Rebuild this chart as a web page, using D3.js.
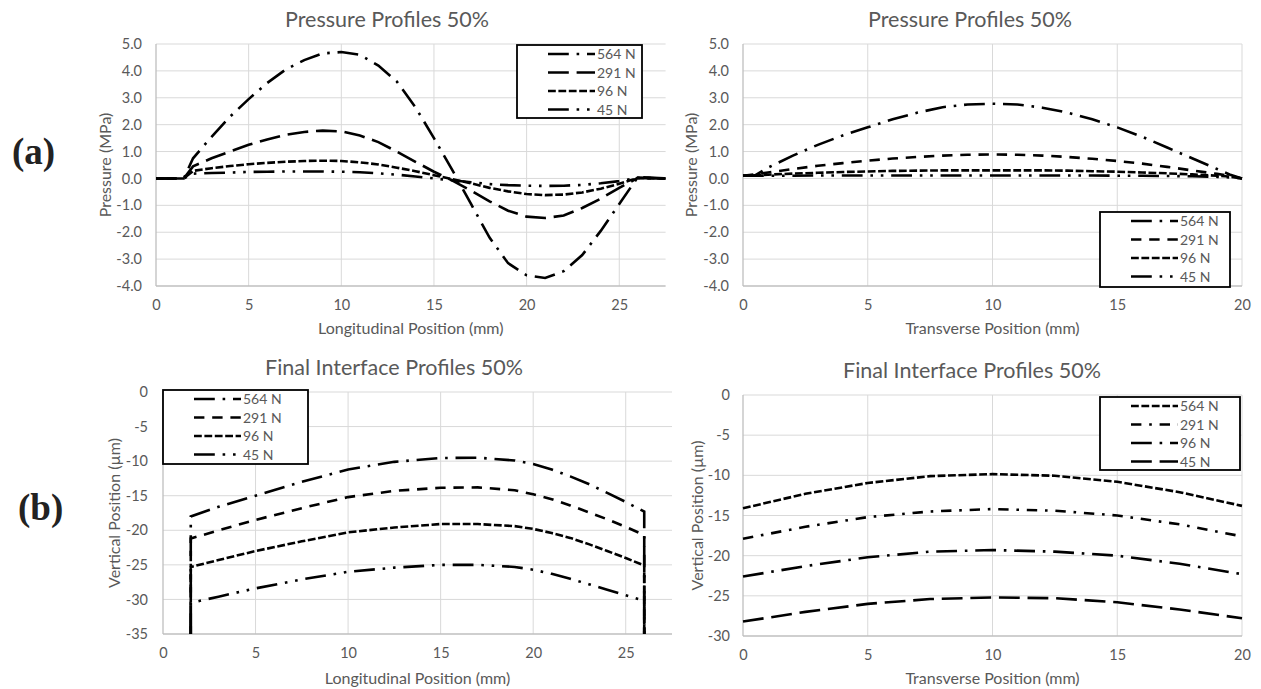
<!DOCTYPE html>
<html>
<head>
<meta charset="UTF-8">
<title>Pressure and Interface Profiles 50%</title>
<script src="https://cdn.jsdelivr.net/npm/d3@7"></script>
<style>
  body { margin: 0; background: #ffffff; }
</style>
</head>
<body>
<svg id="chart" width="1261" height="689"></svg>
<script>
// ---- data ----
var forceLabels = ['564 N', '291 N', '96 N', '45 N'];

// (a) left: pressure along longitudinal position (mm -> MPa)
var xLong = [0, 1.5, 2, 3, 4, 5, 6, 7, 8, 9, 10, 11, 12, 13, 14, 15, 16, 17, 18, 19, 20, 21, 22, 23, 24, 25, 26, 27.5];
var pLong564 = [0, 0, 0.75, 1.55, 2.3, 2.95, 3.55, 4.05, 4.4, 4.65, 4.7, 4.6, 4.2, 3.6, 2.65, 1.5, 0.3, -0.95, -2.2, -3.15, -3.6, -3.7, -3.45, -2.85, -1.95, -0.95, 0.05, 0];
var pLong291 = [0, 0, 0.45, 0.75, 1.0, 1.25, 1.45, 1.62, 1.73, 1.78, 1.75, 1.6, 1.35, 1.0, 0.62, 0.25, -0.08, -0.45, -0.85, -1.2, -1.42, -1.47, -1.38, -1.1, -0.75, -0.35, 0.02, 0];
var pLong96 = [0, 0, 0.28, 0.38, 0.46, 0.53, 0.58, 0.62, 0.65, 0.66, 0.65, 0.6, 0.52, 0.4, 0.27, 0.12, -0.03, -0.18, -0.35, -0.48, -0.58, -0.62, -0.6, -0.52, -0.38, -0.2, 0.02, 0];
var pLong45 = [0, 0, 0.18, 0.2, 0.22, 0.24, 0.25, 0.26, 0.26, 0.26, 0.25, 0.23, 0.19, 0.14, 0.07, 0.0, -0.07, -0.14, -0.21, -0.25, -0.27, -0.28, -0.27, -0.24, -0.18, -0.1, 0.02, 0];

// (a) right: pressure along transverse position
var xTrans = [0, 0.5, 1, 2, 3, 4, 5, 6, 7, 8, 9, 10, 11, 12, 13, 14, 15, 16, 17, 18, 19, 19.5, 20];
var pTrans564 = [0.1, 0.12, 0.4, 0.85, 1.25, 1.6, 1.9, 2.2, 2.45, 2.65, 2.75, 2.78, 2.75, 2.63, 2.45, 2.2, 1.9, 1.55, 1.15, 0.75, 0.35, 0.15, 0.0];
var pTrans291 = [0.1, 0.15, 0.22, 0.35, 0.47, 0.57, 0.66, 0.74, 0.8, 0.85, 0.88, 0.89, 0.88, 0.85, 0.8, 0.73, 0.65, 0.55, 0.43, 0.3, 0.17, 0.1, 0.0];
var pTrans96 = [0.1, 0.12, 0.14, 0.18, 0.21, 0.24, 0.26, 0.28, 0.29, 0.3, 0.3, 0.3, 0.3, 0.3, 0.29, 0.27, 0.25, 0.22, 0.19, 0.15, 0.1, 0.07, 0.0];
var pTrans45 = [0.1, 0.1, 0.1, 0.1, 0.11, 0.11, 0.11, 0.11, 0.11, 0.11, 0.11, 0.11, 0.11, 0.11, 0.11, 0.11, 0.1, 0.1, 0.09, 0.08, 0.06, 0.04, 0.0];

// (b) left: final interface along longitudinal position (mm -> um)
var xIntLong = [1.5, 1.5, 3, 5, 7.5, 10, 12.5, 15, 17, 19, 20, 21, 22, 23, 24, 25, 26, 26];
var iLong564 = [-35, -18, -16.6, -15.0, -13.0, -11.2, -10.1, -9.55, -9.5, -9.9, -10.4, -11.2, -12.2, -13.3, -14.6, -15.9, -17.3, -35];
var iLong291 = [-35, -21.2, -20.0, -18.5, -16.8, -15.2, -14.3, -13.85, -13.8, -14.2, -14.8, -15.5, -16.4, -17.4, -18.4, -19.5, -20.7, -35];
var iLong96 = [-35, -25.3, -24.3, -23.0, -21.6, -20.3, -19.6, -19.1, -19.1, -19.4, -19.8, -20.4, -21.1, -22.0, -23.0, -24.0, -25.1, -35];
var iLong45 = [-35, -30.5, -29.6, -28.4, -27.1, -26.0, -25.4, -25.0, -25.0, -25.3, -25.7, -26.3, -27.0, -27.8, -28.6, -29.4, -30.2, -35];

// (b) right: final interface along transverse position
var xIntTrans = [0, 2.5, 5, 7.5, 10, 12.5, 15, 17.5, 20];
var iTrans564 = [-14.1, -12.3, -10.95, -10.1, -9.85, -10.05, -10.8, -12.1, -13.8];
var iTrans291 = [-17.9, -16.4, -15.2, -14.5, -14.2, -14.4, -15.0, -16.1, -17.6];
var iTrans96 = [-22.6, -21.3, -20.2, -19.5, -19.3, -19.5, -20.0, -21.0, -22.3];
var iTrans45 = [-28.2, -27.0, -26.0, -25.4, -25.2, -25.3, -25.8, -26.7, -27.8];

var pressureTicks = [5, 4, 3, 2, 1, 0, -1, -2, -3, -4];
var longTicks = [0, 5, 10, 15, 20, 25];
var transTicks = [0, 5, 10, 15, 20];
var intLongTicks = [0, -5, -10, -15, -20, -25, -30, -35];
var intTransTicks = [0, -5, -10, -15, -20, -25, -30];

// Excel style dash types, in multiples of the line width
var W = 2.6;
function dash(units) { return units.map(function (u) { return u * W; }).join(','); }
var LG_DASH_DOT = dash([8, 3, 1, 3]);
var LG_DASH = dash([8, 3]);
var SYS_DASH = dash([3, 1]);
var LG_DASH_DOT_DOT = dash([8, 3, 1, 3, 1, 3]);
var DASH = dash([4, 3]);
var DASH_DOT = dash([4, 3, 1, 3]);

var svg = d3.select('#chart');
var GRID = '#d9d9d9', AXIS = '#bfbfbf', TEXT = '#595959';
var FONT = "Lato, 'Open Sans', sans-serif";
var TICK_SIZE = 14.5, LABEL_SIZE = 16, TITLE_SIZE = 21.5, LEGEND_SIZE = 14;

function drawPanel(p) {
  var x = d3.scaleLinear().domain(p.xDomain).range([p.left, p.right]);
  var y = d3.scaleLinear().domain(p.yDomain).range([p.bottom, p.top]);
  var g = svg.append('g').style('font-family', FONT);

  // gridlines
  g.selectAll('line.vgrid')
    .data(p.xTicks.filter(function (d) { return d !== p.xDomain[0]; }))
    .enter().append('line')
    .attr('x1', function (d) { return x(d); }).attr('x2', function (d) { return x(d); })
    .attr('y1', p.top).attr('y2', p.bottom)
    .attr('stroke', GRID).attr('stroke-width', 1);
  g.selectAll('line.hgrid')
    .data(p.yTicks.filter(function (d) { return d !== p.yDomain[0]; }))
    .enter().append('line')
    .attr('x1', p.left).attr('x2', p.right)
    .attr('y1', function (d) { return y(d); }).attr('y2', function (d) { return y(d); })
    .attr('stroke', GRID).attr('stroke-width', 1);
  // axis lines
  g.append('line').attr('x1', p.left).attr('x2', p.right).attr('y1', p.bottom).attr('y2', p.bottom)
    .attr('stroke', AXIS).attr('stroke-width', 1.3);
  g.append('line').attr('x1', p.left).attr('x2', p.left).attr('y1', p.top).attr('y2', p.bottom)
    .attr('stroke', AXIS).attr('stroke-width', 1.3);

  // tick labels
  var xAxis = d3.axisBottom(x).tickValues(p.xTicks).tickSize(0).tickPadding(14)
    .tickFormat(function (d) { return String(d); });
  g.append('g').attr('transform', 'translate(0,' + p.bottom + ')').call(xAxis)
    .attr('font-family', null).attr('font-size', TICK_SIZE).style('color', TEXT)
    .select('.domain').remove();
  var yAxis = d3.axisLeft(y).tickValues(p.yTicks).tickSize(0).tickPadding(p.yPad)
    .tickFormat(p.yFormat);
  g.append('g').attr('transform', 'translate(' + p.left + ',0)').call(yAxis)
    .attr('font-family', null).attr('font-size', TICK_SIZE).style('color', TEXT)
    .select('.domain').remove();

  // titles
  g.append('text').attr('x', p.titleX).attr('y', p.titleY).attr('text-anchor', 'middle')
    .attr('font-size', TITLE_SIZE).attr('fill', TEXT).text(p.title);
  g.append('text').attr('x', (p.left + p.right) / 2).attr('y', p.xLabelY).attr('text-anchor', 'middle')
    .attr('font-size', LABEL_SIZE).attr('fill', TEXT).text(p.xLabel);
  g.append('text').attr('transform', 'translate(' + p.yLabelX + ',' + (p.top + p.bottom) / 2 + ') rotate(-90)')
    .attr('text-anchor', 'middle').attr('font-size', LABEL_SIZE).attr('fill', TEXT).text(p.yLabel);

  // series
  var line = d3.line();
  p.series.forEach(function (s) {
    var pts = s.x.map(function (xv, i) { return [x(xv), y(s.y[i])]; });
    g.append('path').attr('d', line(pts)).attr('fill', 'none')
      .attr('stroke', '#000').attr('stroke-width', W).attr('stroke-dasharray', s.dash);
  });

  // legend
  var L = p.legend;
  g.append('rect').attr('x', L.x).attr('y', L.y).attr('width', L.w).attr('height', L.h)
    .attr('fill', '#fff').attr('stroke', '#000').attr('stroke-width', 1.8);
  p.series.forEach(function (s, i) {
    var ly = L.y + 9 + i * 18.5;
    g.append('line').attr('x1', L.x + 31).attr('x2', L.x + 78).attr('y1', ly).attr('y2', ly)
      .attr('stroke', '#000').attr('stroke-width', W).attr('stroke-dasharray', s.dash);
    g.append('text').attr('x', L.x + 80).attr('y', ly).attr('dy', '0.36em')
      .attr('font-size', LEGEND_SIZE).attr('fill', TEXT).text(s.name);
  });
}

function fmt1(d) { return d.toFixed(1); }
function fmt0(d) { return String(d); }

drawPanel({
  left: 156, right: 665.6, top: 44, bottom: 286,
  xDomain: [0, 27.5], yDomain: [-4, 5], xTicks: longTicks, yTicks: pressureTicks,
  yFormat: fmt1, yPad: 14,
  title: 'Pressure Profiles 50%', titleX: 387, titleY: 27,
  xLabel: 'Longitudinal Position (mm)', xLabelY: 334,
  yLabel: 'Pressure (MPa)', yLabelX: 111,
  legend: { x: 517, y: 45, w: 125, h: 73 },
  series: [
    { name: forceLabels[0], x: xLong, y: pLong564, dash: LG_DASH_DOT },
    { name: forceLabels[1], x: xLong, y: pLong291, dash: LG_DASH },
    { name: forceLabels[2], x: xLong, y: pLong96, dash: SYS_DASH },
    { name: forceLabels[3], x: xLong, y: pLong45, dash: LG_DASH_DOT_DOT }
  ]
});

drawPanel({
  left: 743, right: 1242, top: 44, bottom: 286,
  xDomain: [0, 20], yDomain: [-4, 5], xTicks: transTicks, yTicks: pressureTicks,
  yFormat: fmt1, yPad: 14,
  title: 'Pressure Profiles 50%', titleX: 970, titleY: 27,
  xLabel: 'Transverse Position (mm)', xLabelY: 334,
  yLabel: 'Pressure (MPa)', yLabelX: 697,
  legend: { x: 1100, y: 212, w: 130, h: 75 },
  series: [
    { name: forceLabels[0], x: xTrans, y: pTrans564, dash: LG_DASH_DOT },
    { name: forceLabels[1], x: xTrans, y: pTrans291, dash: DASH },
    { name: forceLabels[2], x: xTrans, y: pTrans96, dash: SYS_DASH },
    { name: forceLabels[3], x: xTrans, y: pTrans45, dash: LG_DASH_DOT_DOT }
  ]
});

drawPanel({
  left: 163, right: 672, top: 392, bottom: 634,
  xDomain: [0, 27.5], yDomain: [-35, 0], xTicks: longTicks, yTicks: intLongTicks,
  yFormat: fmt0, yPad: 15,
  title: 'Final Interface Profiles 50%', titleX: 394, titleY: 375,
  xLabel: 'Longitudinal Position (mm)', xLabelY: 684,
  yLabel: 'Vertical Position (\u00b5m)', yLabelX: 120,
  legend: { x: 163, y: 390, w: 145, h: 74 },
  series: [
    { name: forceLabels[0], x: xIntLong, y: iLong564, dash: LG_DASH_DOT },
    { name: forceLabels[1], x: xIntLong, y: iLong291, dash: DASH },
    { name: forceLabels[2], x: xIntLong, y: iLong96, dash: SYS_DASH },
    { name: forceLabels[3], x: xIntLong, y: iLong45, dash: LG_DASH_DOT_DOT }
  ]
});

drawPanel({
  left: 743, right: 1242, top: 395, bottom: 636,
  xDomain: [0, 20], yDomain: [-30, 0], xTicks: transTicks, yTicks: intTransTicks,
  yFormat: fmt0, yPad: 13,
  title: 'Final Interface Profiles 50%', titleX: 972, titleY: 378,
  xLabel: 'Transverse Position (mm)', xLabelY: 684,
  yLabel: 'Vertical Position (\u00b5m)', yLabelX: 703,
  legend: { x: 1100, y: 397, w: 140, h: 73 },
  series: [
    { name: forceLabels[0], x: xIntTrans, y: iTrans564, dash: SYS_DASH },
    { name: forceLabels[1], x: xIntTrans, y: iTrans291, dash: DASH_DOT },
    { name: forceLabels[2], x: xIntTrans, y: iTrans96, dash: LG_DASH_DOT },
    { name: forceLabels[3], x: xIntTrans, y: iTrans45, dash: LG_DASH }
  ]
});

// panel labels
svg.append('text').attr('x', 12).attr('y', 164).style('font-family', "'Liberation Serif', 'DejaVu Serif', serif")
  .attr('font-weight', 'bold').attr('font-size', 37).attr('fill', '#222').text('(a)');
svg.append('text').attr('x', 18).attr('y', 520).style('font-family', "'Liberation Serif', 'DejaVu Serif', serif")
  .attr('font-weight', 'bold').attr('font-size', 37).attr('fill', '#222').text('(b)');
</script>
</body>
</html>
